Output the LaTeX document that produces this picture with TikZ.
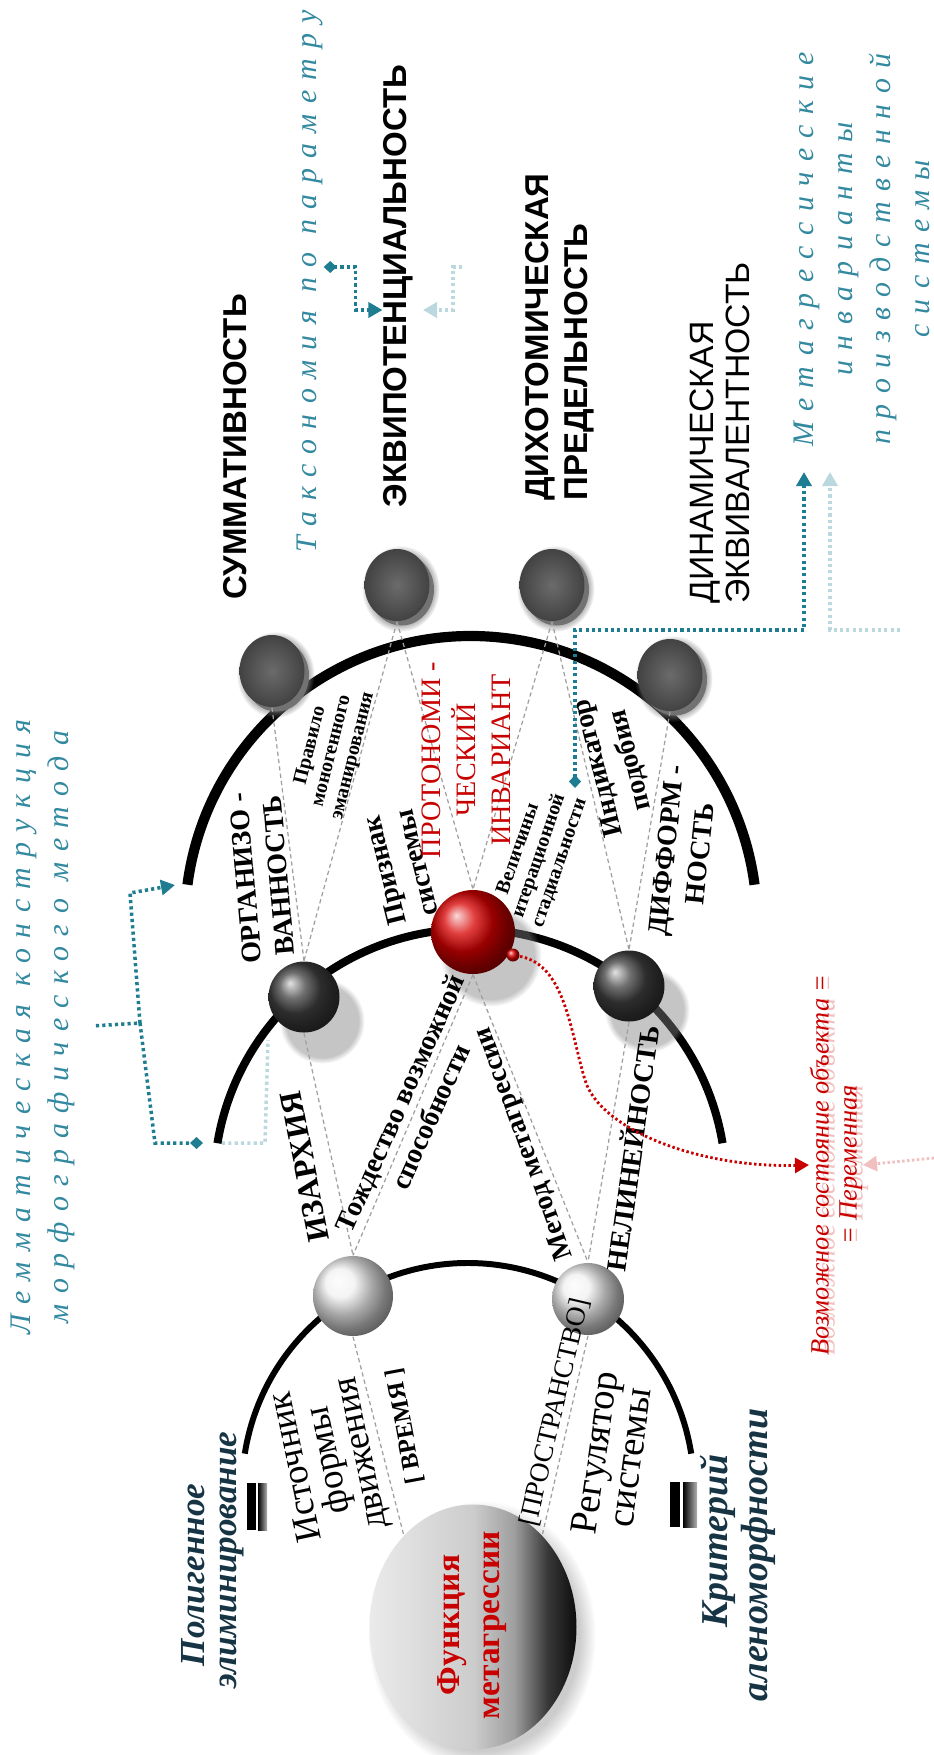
\documentclass[tikz,border=0pt]{standalone}
\usepackage{fontspec}
\setmainfont{Liberation Serif}
\setsansfont{Liberation Sans}
\newfontfamily\razryadka[LetterSpace=35]{Liberation Serif}
\usetikzlibrary{positioning, shapes.geometric, arrows.meta, shadows, fadings}

\definecolor{biruza}{RGB}{30,125,145}
\definecolor{biruzatxt}{RGB}{50,137,160}
\definecolor{temno}{RGB}{22,52,68}
\definecolor{krasn}{RGB}{200,0,0}

\pgfdeclarehorizontalshading{fnshade}{100bp}{color(0bp)=(black!8); color(25bp)=(black!8); color(50bp)=(black!20); color(60bp)=(black!38); color(68bp)=(black!78); color(75bp)=(black!95); color(100bp)=(black!95)}

\begin{document}
\begin{tikzpicture}[x=0.1mm, y=-0.1mm,
		shar/.style={circle, inner sep=0pt},
		ten/.style={circular drop shadow={shadow xshift=1.5mm, shadow yshift=-2mm, shadow scale=1.2, opacity=0.45}},
		moneta/.style={ellipse, minimum width=6.5mm, minimum height=7.2mm, inner sep=0pt, inner color=black!58, outer color=black!74,
			preaction={fill=black!62, transform canvas={shift={(0.45mm,-0.45mm)}}},
			circular drop shadow={shadow xshift=0.3mm, shadow yshift=-0.3mm, shadow scale=1.2, opacity=0.55}},
		nit/.style={gray!75, line width=0.35pt, dash pattern=on 1.2pt off 0.9pt},
		punkt/.style={biruza, line width=1pt, dash pattern=on 0.9pt off 0.9pt},
		blekl/.style={biruza!30, line width=1pt, dash pattern=on 0.9pt off 0.9pt},
		strelka/.style={-{Triangle[length=1.4mm, width=1.5mm]}},
		romb/.style={{Diamond[length=1.3mm, width=1.2mm]}-{Triangle[length=1.4mm, width=1.5mm]}},
		zagl/.style={rotate=90, inner sep=0pt, align=left, font=\sffamily\bfseries\fontsize{9.4}{11}\selectfont},
		metka/.style={inner sep=0pt, align=center, font=\bfseries\fontsize{8}{9.5}\selectfont},
		melk/.style={inner sep=0pt, align=center, font=\bfseries\fontsize{5.7}{6.2}\selectfont},
		razr/.style={rotate=90, inner sep=0pt, align=center, text=biruzatxt, font=\razryadka\itshape\fontsize{8.5}{11}\selectfont},
		seraya/.style={inner sep=0pt, align=center, font=\fontsize{10.5}{9.5}\selectfont},
		itog/.style={rotate=90, inner sep=0pt, text=temno, font=\bfseries\itshape\fontsize{10}{12}\selectfont},
	]
	\fill[white] (0,0) rectangle (934,1755);
	\useasboundingbox (0,0) rectangle (934,1755);
	
	% Дуги
	\draw[line width=1.7pt] (468,1489) ++(189:226) arc[start angle=189, end angle=351, radius=226];
	\draw[line width=2.3pt] (470,1185) ++(189.4:256) arc[start angle=189.4, end angle=350.6, radius=256];
	\draw[line width=2.9pt] (471,922) ++(187.5:286) arc[start angle=187.5, end angle=352.5, radius=286];
	
	% Знаки равенства
	\fill[black] (247,1483) rectangle (256,1530);
	\shade[left color=black, right color=gray!60] (258,1483) rectangle (267,1530);
	\fill[black] (670,1482) rectangle (680,1527);
	\shade[left color=black, right color=gray!60] (683,1482) rectangle (697,1527);
	
	% Функция метагрессии
	\node[ellipse, minimum width=20.7mm, minimum height=24.5mm, shading=fnshade,
		circular drop shadow={shadow xshift=0.8mm, shadow yshift=-0.8mm, opacity=0.4}] (fn) at (473,1627) {};
	\node[rotate=90, inner sep=0pt, align=center, text=krasn, font=\bfseries\fontsize{9.5}{11.4}\selectfont] (fnl) at (472,1625) {Функция\\метагрессии};
	
	% Сферы
	\node[shar, ball color=gray!12, minimum size=8mm] (l1) at (353,1296) {};
	\node[shar, ball color=gray!12, minimum size=7.2mm] (l2) at (588,1299) {};
	\node[shar, ten, ball color=black!75, minimum size=7.1mm] (d1) at (304,997) {};
	\node[shar, ten, ball color=red!85!black, minimum size=8.4mm] (kr) at (473,932) {};
	\node[shar, ball color=red!85!black, minimum size=1.3mm] (kb) at (513,955) {};
	\node[shar, ten, ball color=black!75, minimum size=7.1mm] (d2) at (629,986) {};
	
	% Монеты
	\node[moneta] (g1) at (272,671) {};
	\node[moneta] (g2) at (397,585) {};
	\node[moneta] (g3) at (552,585) {};
	\node[moneta] (g4) at (670,675) {};
	
	% Тонкие связи
	\draw[nit] (g1.south) -- (d1.north);
	\draw[nit] (g2.south) -- (d1.north);
	\draw[nit] (g2.south) -- (kr.north);
	\draw[nit] (g3.south) -- (kr.north);
	\draw[nit] (g3.south) -- (d2.north);
	\draw[nit] (g4.south) -- (d2.north);
	\draw[nit] (d1.south) -- (l1.north);
	\draw[nit] (kr.south) -- (l1.north);
	\draw[nit] (kr.south) -- (l2.north);
	\draw[nit] (d2.south) -- (l2.north);
	\draw[nit] (l1.south) -- (fn.127);
	\draw[nit] (l2.south) -- (fn.53);
	
	% Заголовки
	\node[zagl] (summ) at (235,447) {СУММАТИВНОСТЬ};
	\node[zagl] (ekvp) at (398,286) {ЭКВИПОТЕНЦИАЛЬНОСТЬ};
	\node[zagl] (dixo) at (560,337) {ДИХОТОМИЧЕСКАЯ\\ПРЕДЕЛЬНОСТЬ};
	\node[zagl, font=\sffamily\fontsize{9.6}{10.3}\selectfont] (dina) at (720,433) {ДИНАМИЧЕСКАЯ\\ЭКВИВАЛЕНТНОСТЬ};
	
	% Бирюзовые подписи
	\node[razr] (tax) at (310,281) {Таксономия по параметру};
	\node[razr] (met) at (862,249) {Метагрессические\\инварианты\\производственной\\системы};
	\node[razr] (lem) at (43,1027) {Лемматическая конструкция\\морфографического метода};
	
	\node[itog] (polig1) at (193,1575) {Полигенное};
	\node[itog] (polig2) at (232,1560) {элиминирование};
	\node[itog, font=\bfseries\itshape\fontsize{10.8}{12}\selectfont] (krit1) at (718,1541) {Критерий};
	\node[itog, font=\bfseries\itshape\fontsize{10.8}{12}\selectfont] (krit2) at (758,1555) {аленоморфности};
	
	% Подписи у сфер
	\node[metka, rotate=95] (org) at (262,877) {ОРГАНИЗО -\\ВАННОСТЬ};
	\node[metka, rotate=101, font=\bfseries\fontsize{9}{10}\selectfont] (izar) at (305,1167) {ИЗАРХИЯ};
	\node[metka, rotate=66] (tozh) at (415,1110) {Тождество возможной\\способности};
	\node[metka, rotate=110] (metod) at (525,1143) {Метод метагрессии};
	\node[metka, rotate=82] (neli) at (631,1148) {НЕЛИНЕЙНОСТЬ};
	\node[metka, rotate=104] (prizn) at (400,867) {Признак\\системы};
	\node[melk, rotate=76] (prav) at (332,751) {Правило\\моногенного\\эманирования};
	\node[rotate=90, inner sep=0pt, align=center, text=krasn, font=\fontsize{8}{10}\selectfont] (proto) at (466,760) {ПРОТОНОМИ -\\ЧЕСКИЙ\\ИНВАРИАНТ};
	\node[melk, rotate=71] (velich) at (539,856) {Величины\\итерационной\\стадиальности};
	\node[metka, rotate=104] (indik) at (615,764) {Индикатор\\подобия};
	\node[metka, rotate=84] (diff) at (683,852) {ДИФФОРМ -\\НОСТЬ};
	\node[seraya, rotate=102] (istoch) at (330,1460) {Источник\\формы\\движения};
	\node[seraya, rotate=100.5, font=\bfseries\fontsize{7}{8}\selectfont] (vrem) at (405,1426) {[ ВРЕМЯ ]};
	\node[seraya, rotate=77, font=\fontsize{7.8}{9}\selectfont] (prostr) at (555,1412) {[ПРОСТРАНСТВО]};
	\node[seraya, rotate=82, font=\fontsize{11}{10}\selectfont] (regul) at (612,1455) {Регулятор\\системы};
	
	% Возможное состояние
	\node[rotate=90, inner sep=0pt, align=center, text=krasn!25, font=\itshape\fontsize{7.5}{8}\selectfont] (vozten) at (842,1165) {Возможное состояние объекта =\\= Переменная};
	\node[rotate=90, inner sep=0pt, align=center, text=krasn, font=\itshape\fontsize{7.5}{8}\selectfont] (voz) at (836,1165) {Возможное состояние объекта =\\= Переменная};
	
	% Бирюзовые стрелки
	\coordinate (lemuz) at (140,1023);
	\coordinate (lemverh) at (130,893);
	\coordinate (lemniz) at (155,1143);
	\coordinate (dug3) at (175,885);
	\coordinate (dug2) at (203,1143);
	\draw[punkt, shorten <=2mm] (lem.south) -- (lemuz);
	\draw[punkt, strelka] (lemuz) -- (lemverh) -- (dug3);
	\draw[punkt, -{Diamond[length=1.3mm, width=1.2mm]}] (lemuz) -- (lemniz) -- (dug2);
	\coordinate (dug2g) at (222,1143);
	\draw[blekl] (dug2g) -- (265,1143) -- (268,1040);
	
	\draw[punkt, romb] ([yshift=1.4mm]tax.south) -- ++(32,0) |- ([yshift=-2.4mm]ekvp.north);
	\coordinate (taxg) at (462,267);
	\coordinate (ekvg) at (423,310);
	\draw[blekl, strelka] (taxg) -- ++(-9,0) |- (ekvg);
	
	\coordinate (velk) at (575,788);
	\coordinate (meta) at (804,472);
	\draw[punkt, romb] (velk) -- ++(0,-158) -| (meta);
	\coordinate (metg0) at (900,630);
	\coordinate (metg) at (830,472);
	\draw[blekl, strelka] (metg0) -| (metg);
	
	% Красная стрелка
	\draw[krasn, line width=0.8pt, dash pattern=on 0.7pt off 0.7pt, strelka] (kb) .. controls (565,965) and (570,1030) .. (585,1080) .. controls (600,1130) and (700,1168) .. (voz.north);
	\coordinate (vozg) at (934,1158);
	\draw[krasn!25, line width=0.8pt, dash pattern=on 0.7pt off 0.7pt, strelka] (vozg) -- (voz.south);
\end{tikzpicture}
\end{document}
